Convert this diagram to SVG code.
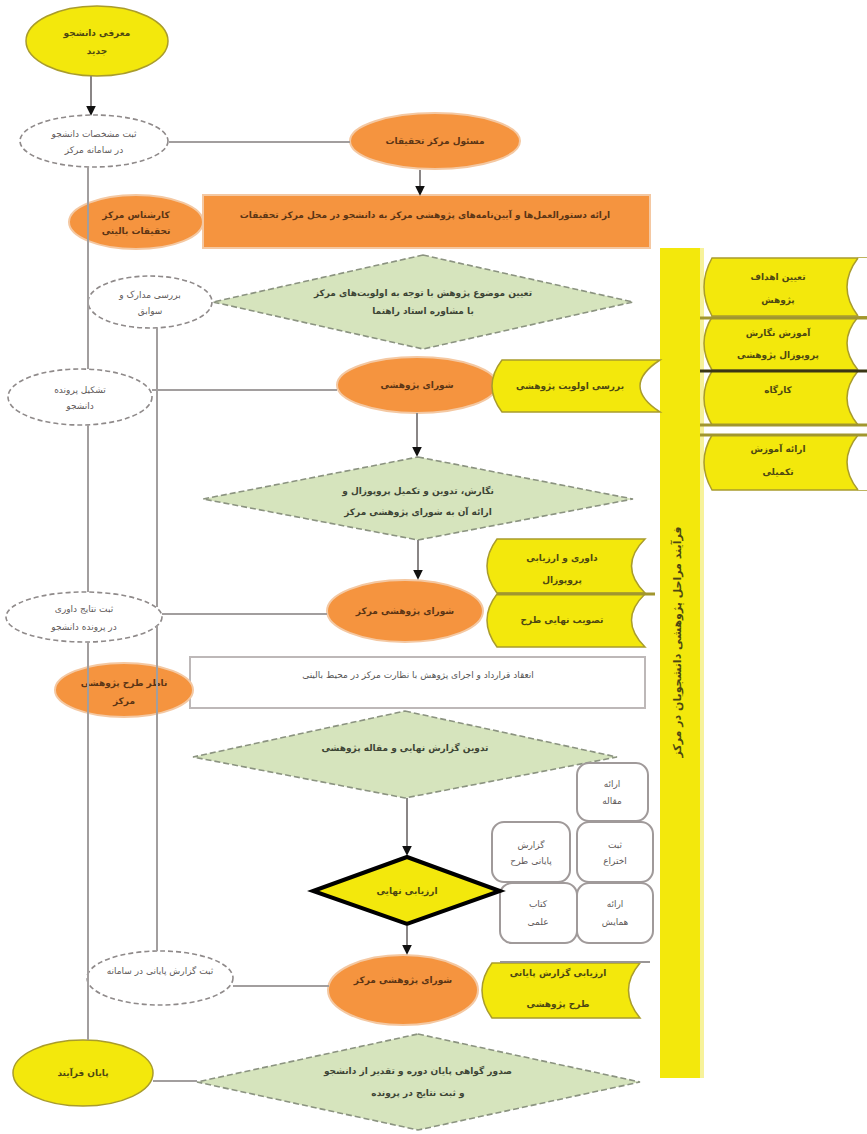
<svg xmlns="http://www.w3.org/2000/svg" width="867" height="1134" viewBox="0 0 867 1134">
<defs>
<marker id="arr" viewBox="0 0 6 6" refX="5" refY="3" markerWidth="5" markerHeight="5" orient="auto">
<path d="M0,0 L6,3 L0,6 Z" fill="#111"/>
</marker>
<style>
.yel{fill:#F3E80C;stroke:#A99C2C;stroke-width:1.5}
.org{fill:#F5943F;stroke:#F4C8A2;stroke-width:2}
.dsh{fill:#fff;stroke:#8f8a8a;stroke-width:1.6;stroke-dasharray:5 3}
.grn{fill:#D6E4BD;stroke:#8b9380;stroke-width:1.6;stroke-dasharray:6 3}
.box{fill:#fff;stroke:#a09a9a;stroke-width:2}
.ln{stroke:#a29e9e;stroke-width:2;fill:none}
.la{stroke:#8a8686;stroke-width:2;fill:none;marker-end:url(#arr)}
text{font-family:"DejaVu Sans","Noto Sans",sans-serif;font-size:9px;text-anchor:middle}
.to{fill:#5b3515;font-weight:bold}
.ty{fill:#4d4712;font-weight:bold}
.td{fill:#5e5959}
.tg{fill:#3d4535;font-weight:bold}
</style>
</defs>
<rect width="867" height="1134" fill="#fff"/>

<g id="bar">
<rect x="660" y="248" width="40" height="830" fill="#F3E80C"/>
<rect x="700" y="248" width="4" height="830" fill="#F7F29A"/>
<text class="ty" transform="translate(681,642) rotate(-90)" style="font-size:11px">فرآیند مراحل پژوهشی دانشجویان در مرکز</text>
</g>

<g id="start">
<ellipse class="yel" cx="97" cy="41" rx="71" ry="35"/>
<text class="ty" x="97" y="36">معرفی دانشجو</text>
<text class="ty" x="97" y="54">جدید</text>
</g>

<g id="reg1">
<ellipse class="dsh" cx="94" cy="141" rx="74" ry="26"/>
<text class="td" x="94" y="137">ثبت مشخصات دانشجو</text>
<text class="td" x="94" y="153">در سامانه مرکز</text>
</g>

<g id="head">
<ellipse class="org" cx="435" cy="141" rx="85" ry="28"/>
<text class="to" x="435" y="144">مسئول مرکز تحقیقات</text>
</g>

<g id="brief">
<rect x="203" y="195" width="447" height="53" fill="#F5943F" stroke="#F4C8A2" stroke-width="2"/>
<text class="to" x="425" y="218">ارائه دستورالعمل‌ها و آیین‌نامه‌های پژوهشی مرکز به دانشجو در محل مرکز تحقیقات</text>
</g>

<g id="expert">
<ellipse class="org" cx="136" cy="222" rx="67" ry="27"/>
<text class="to" x="136" y="218">کارشناس مرکز</text>
<text class="to" x="136" y="234">تحقیقات بالینی</text>
</g>

<g id="topic">
<polygon class="grn" points="423,255 633,302 423,349 213,302"/>
<text class="tg" x="423" y="296">تعیین موضوع پژوهش با توجه به اولویت‌های مرکز</text>
<text class="tg" x="423" y="314">با مشاوره استاد راهنما</text>
</g>

<g id="reg2">
<ellipse class="dsh" cx="150" cy="302" rx="62" ry="26"/>
<text class="td" x="150" y="298">بررسی مدارک و</text>
<text class="td" x="150" y="314">سوابق</text>
</g>

<g id="council1">
<ellipse class="org" cx="417" cy="385" rx="80" ry="28"/>
<text class="to" x="417" y="388">شورای پژوهشی</text>
</g>

<g id="doc1">
<path class="yel" d="M502,360 H660 Q620,386 660,412 H502 Q482,386 502,360 Z"/>
<text class="ty" x="570" y="389">بررسی اولویت پژوهشی</text>
</g>

<g id="reg3">
<ellipse class="dsh" cx="80" cy="397" rx="72" ry="28"/>
<text class="td" x="80" y="393">تشکیل پرونده</text>
<text class="td" x="80" y="409">دانشجو</text>
</g>

<g id="side1">
<path class="yel" d="M712,258 H867 V316 H712 Q696,287 712,258 Z"/>
<path d="M858,258 Q836,287 858,316 H867 V258 Z" fill="#fff" stroke="none"/>
<path d="M858,258 Q836,287 858,316" fill="none" stroke="#A99C2C" stroke-width="1.5"/>
<text class="ty" x="778" y="280">تعیین اهداف</text>
<text class="ty" x="778" y="303">پژوهش</text>
</g>
<g id="side2">
<path class="yel" d="M712,317 H867 V370 H712 Q696,343 712,317 Z"/>
<path d="M858,317 Q836,343 858,370 H867 V317 Z" fill="#fff" stroke="none"/>
<path d="M858,317 Q836,343 858,370" fill="none" stroke="#A99C2C" stroke-width="1.5"/>
<line x1="700" y1="318" x2="867" y2="318" stroke="#A1962E" stroke-width="3"/>
<text class="ty" x="778" y="336">آموزش نگارش</text>
<text class="ty" x="778" y="358">پروپوزال پژوهشی</text>
</g>
<g id="side3">
<path class="yel" d="M712,371 H867 V425 H712 Q696,398 712,371 Z"/>
<path d="M858,371 Q836,398 858,425 H867 V371 Z" fill="#fff" stroke="none"/>
<path d="M858,371 Q836,398 858,425" fill="none" stroke="#A99C2C" stroke-width="1.5"/>
<line x1="700" y1="371" x2="867" y2="371" stroke="#3a3615" stroke-width="3"/>
<line x1="700" y1="425" x2="867" y2="425" stroke="#A1962E" stroke-width="3"/>
<text class="ty" x="778" y="393">کارگاه</text>
</g>
<g id="side4">
<path class="yel" d="M712,435 H867 V490 H712 Q696,462 712,435 Z"/>
<path d="M858,435 Q836,462 858,490 H867 V435 Z" fill="#fff" stroke="none"/>
<path d="M858,435 Q836,462 858,490" fill="none" stroke="#A99C2C" stroke-width="1.5"/>
<line x1="700" y1="435" x2="867" y2="435" stroke="#A1962E" stroke-width="3"/>
<text class="ty" x="778" y="452">ارائه آموزش</text>
<text class="ty" x="778" y="475">تکمیلی</text>
</g>

<g id="proposal">
<polygon class="grn" points="418,457 633,499 418,540 203,499"/>
<text class="tg" x="418" y="494">نگارش، تدوین و تکمیل پروپوزال و</text>
<text class="tg" x="418" y="515">ارائه آن به شورای پژوهشی مرکز</text>
</g>

<g id="doc2">
<path class="yel" d="M497,539 H645 Q618,566 645,593 H497 Q477,566 497,539 Z"/>
<text class="ty" x="562" y="561">داوری و ارزیابی</text>
<text class="ty" x="562" y="583">پروپوزال</text>
</g>
<g id="doc3">
<path class="yel" d="M497,594 H645 Q618,620 645,647 H497 Q477,620 497,594 Z"/>
<line x1="497" y1="594" x2="655" y2="594" stroke="#A1962E" stroke-width="3"/>
<text class="ty" x="562" y="623">تصویب نهایی طرح</text>
</g>

<g id="council2">
<ellipse class="org" cx="405" cy="611" rx="78" ry="31"/>
<text class="to" x="405" y="614">شورای پژوهشی مرکز</text>
</g>

<g id="reg4">
<ellipse class="dsh" cx="84" cy="617" rx="78" ry="25"/>
<text class="td" x="84" y="612">ثبت نتایج داوری</text>
<text class="td" x="84" y="630">در پرونده دانشجو</text>
</g>

<g id="exec">
<rect x="190" y="657" width="455" height="51" fill="#fff" stroke="#bdb8b8" stroke-width="2"/>
<text class="td" x="418" y="678" style="fill:#555">انعقاد قرارداد و اجرای پژوهش با نظارت مرکز در محیط بالینی</text>
</g>

<g id="supervisor">
<ellipse class="org" cx="124" cy="690" rx="69" ry="27"/>
<text class="to" x="124" y="686">ناظر طرح پژوهشی</text>
<text class="to" x="124" y="704">مرکز</text>
</g>

<g id="report">
<polygon class="grn" points="405,711 617,757 405,798 193,757"/>
<text class="tg" x="405" y="751">تدوین گزارش نهایی و مقاله پژوهشی</text>
</g>

<g id="outputs">
<rect class="box" x="577" y="763" width="71" height="58" rx="12"/>
<text class="td" x="612" y="787">ارائه</text>
<text class="td" x="612" y="804">مقاله</text>
<rect class="box" x="492" y="822" width="78" height="60" rx="12"/>
<text class="td" x="531" y="848">گزارش</text>
<text class="td" x="531" y="864">پایانی طرح</text>
<rect class="box" x="577" y="822" width="76" height="60" rx="12"/>
<text class="td" x="615" y="848">ثبت</text>
<text class="td" x="615" y="864">اختراع</text>
<rect class="box" x="500" y="883" width="77" height="60" rx="12"/>
<text class="td" x="538" y="907">کتاب</text>
<text class="td" x="538" y="925">علمی</text>
<rect class="box" x="577" y="883" width="76" height="60" rx="12"/>
<text class="td" x="615" y="907">ارائه</text>
<text class="td" x="615" y="925">همایش</text>
</g>

<g id="evaluate">
<polygon points="407,857 500,891 407,924 313,891" fill="#F3E80C" stroke="#000" stroke-width="4"/>
<text class="ty" x="407" y="894">ارزیابی نهایی</text>
</g>

<g id="council3">
<ellipse class="org" cx="403" cy="990" rx="75" ry="35"/>
<text class="to" x="403" y="983">شورای پژوهشی مرکز</text>
</g>

<g id="doc4">
<path class="yel" d="M492,963 H640 Q617,990 640,1018 H492 Q472,990 492,963 Z"/>
<line x1="500" y1="962" x2="650" y2="962" stroke="#9a9696" stroke-width="2"/>
<text class="ty" x="558" y="976">ارزیابی گزارش پایانی</text>
<text class="ty" x="558" y="1007">طرح پژوهشی</text>
</g>

<g id="reg5">
<ellipse class="dsh" cx="160" cy="978" rx="73" ry="27"/>
<text class="td" x="160" y="974">ثبت گزارش پایانی در سامانه</text>
</g>

<g id="end">
<ellipse class="yel" cx="83" cy="1073" rx="70" ry="33"/>
<text class="ty" x="83" y="1076">پایان فرآیند</text>
</g>

<g id="certificate">
<polygon class="grn" points="418,1034 640,1082 418,1130 197,1082"/>
<text class="tg" x="418" y="1074">صدور گواهی پایان دوره و تقدیر از دانشجو</text>
<text class="tg" x="418" y="1096">و ثبت نتایج در پرونده</text>
</g>

<g id="connectors">
<line class="la" x1="91" y1="76" x2="91" y2="114"/>
<line class="ln" x1="169" y1="142" x2="350" y2="142"/>
<line class="la" x1="420" y1="170" x2="420" y2="194"/>
<line class="ln" x1="88" y1="167" x2="88" y2="369"/>
<line class="ln" x1="88" y1="425" x2="88" y2="592"/>
<line class="ln" x1="88" y1="642" x2="88" y2="1040"/>
<line class="ln" x1="157" y1="328" x2="157" y2="607"/>
<line class="ln" x1="157" y1="625" x2="157" y2="951"/>
<line class="ln" x1="152" y1="390" x2="337" y2="390"/>
<line class="la" x1="417" y1="413" x2="417" y2="455"/>
<line class="la" x1="418" y1="540" x2="418" y2="578"/>
<line class="ln" x1="162" y1="614" x2="327" y2="614"/>
<line class="la" x1="407" y1="798" x2="407" y2="854"/>
<line class="la" x1="407" y1="926" x2="407" y2="953"/>
<line class="ln" x1="233" y1="986" x2="329" y2="986"/>
<line class="ln" x1="153" y1="1081" x2="197" y2="1081"/>
</g>
</svg>
